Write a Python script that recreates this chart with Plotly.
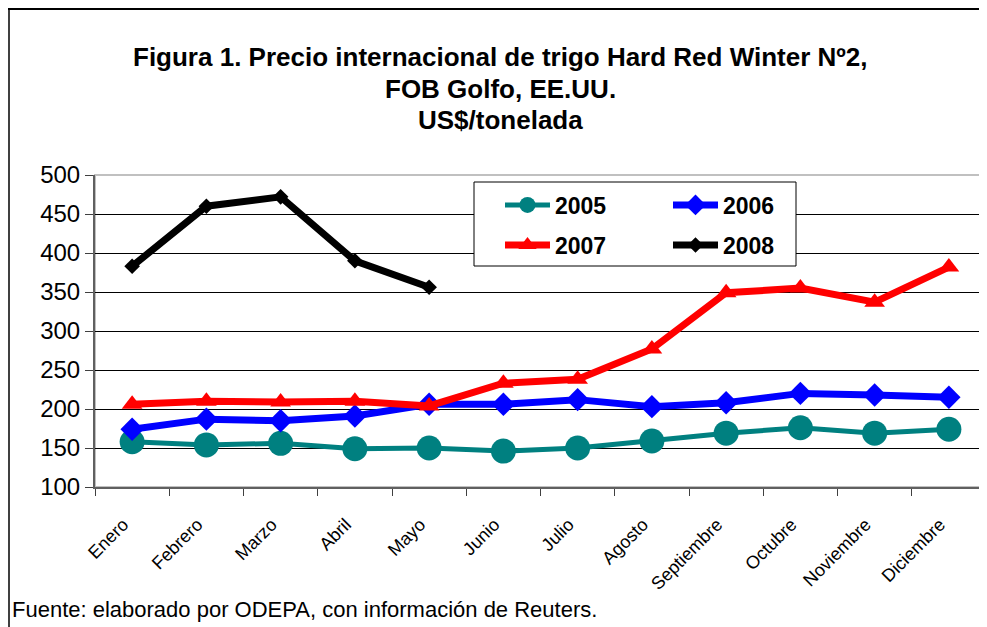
import plotly.graph_objects as go

months = ["Enero", "Febrero", "Marzo", "Abril", "Mayo", "Junio", "Julio",
          "Agosto", "Septiembre", "Octubre", "Noviembre", "Diciembre"]
v2005 = [158, 154, 156, 149, 150, 146, 150, 159, 169, 176, 169, 174]
v2006 = [174, 187, 185, 191, 206, 206, 212, 203, 208, 220, 218, 215]
v2007 = [206, 210, 209, 210, 204, 233, 238, 277, 349, 355, 337, 382]
v2008 = [383, 460, 472, 390, 356]
y_ticks = [100, 150, 200, 250, 300, 350, 400, 450, 500]

# page has an 8px body margin, so the figure is drawn 8px smaller
OFF = 8
W, H = 987 - OFF, 627 - OFF
L, R, T, B = 95, 986, 175, 487  # plot area in reference px


def px(xp):
    return (xp - L) / (R - L)


def py(yp):
    return (B - yp) / (B - T)


FONT = "Liberation Sans, Arial, sans-serif"

fig = go.Figure()
fig.add_trace(go.Scatter(
    x=months, y=v2005, name="2005", mode="lines+markers",
    line=dict(color="#008080", width=5),
    marker=dict(symbol="circle", size=25, color="#008080"),
    legend="legend"))
fig.add_trace(go.Scatter(
    x=months, y=v2006, name="2006", mode="lines+markers",
    line=dict(color="#0000FF", width=7),
    marker=dict(symbol="diamond", size=18, color="#0000FF"),
    legend="legend"))
fig.add_trace(go.Scatter(
    x=months, y=v2007, name="2007", mode="lines+markers",
    line=dict(color="#FF0000", width=7),
    marker=dict(symbol="triangle-up", size=18, color="#FF0000"),
    legend="legend2"))
fig.add_trace(go.Scatter(
    x=months[:len(v2008)], y=v2008, name="2008", mode="lines+markers",
    line=dict(color="#000000", width=7),
    marker=dict(symbol="diamond", size=12, color="#000000"),
    legend="legend2"))

shapes = [
    dict(type="rect", xref="paper", yref="paper", x0=0, x1=1, y0=0, y1=1,
         line=dict(color="#C0C0C0", width=2), layer="below"),
    dict(type="rect", xref="paper", yref="paper",
         x0=px(474), x1=px(796), y0=py(266), y1=py(182),
         line=dict(color="#000000", width=1), fillcolor="white", layer="above"),
    dict(type="line", xref="paper", yref="paper",
         x0=px(9), x1=px(9), y0=py(8), y1=py(640),
         line=dict(color="#404040", width=2)),
    dict(type="line", xref="paper", yref="paper",
         x0=px(8), x1=px(986), y0=py(9), y1=py(9),
         line=dict(color="#000000", width=2)),
]

title_lines = ["Figura 1. Precio internacional de trigo Hard Red Winter Nº2,",
               "FOB Golfo, EE.UU.",
               "US$/tonelada"]
title_y = [57, 89, 120]
annotations = []
for t, yy in zip(title_lines, title_y):
    annotations.append(dict(text="<b>%s</b>" % t, xref="paper", yref="paper",
                            x=px(500), y=py(yy), xanchor="center", yanchor="middle",
                            showarrow=False,
                            font=dict(family=FONT, size=26, color="black")))
annotations.append(dict(text="Fuente: elaborado por ODEPA, con información de Reuters.",
                        xref="paper", yref="paper", x=px(10), y=py(609),
                        xanchor="left", yanchor="middle", showarrow=False,
                        font=dict(family=FONT, size=22, color="black")))

legend_common = dict(orientation="h", xanchor="left", yanchor="middle",
                     bgcolor="rgba(0,0,0,0)", borderwidth=0,
                     itemwidth=45,
                     entrywidth=108, entrywidthmode="pixels",
                     font=dict(family=FONT, size=23, color="black", weight="bold"),
                     itemclick=False, itemdoubleclick=False)

fig.update_layout(
    width=W, height=H,
    margin=dict(l=L - OFF, r=W - (R - OFF), t=T - OFF, b=H - (B - OFF), pad=0),
    paper_bgcolor="white", plot_bgcolor="white",
    font=dict(family=FONT, color="black"),
    showlegend=True,
    legend=dict(legend_common, x=px(500), y=py(205)),
    legend2=dict(legend_common, x=px(500), y=py(245)),
    xaxis=dict(type="category", categoryorder="array", categoryarray=months,
               range=[-0.5, 11.5], tickson="boundaries",
               ticks="outside", ticklen=7, tickcolor="#404040", tickwidth=1,
               showline=True, linecolor="#606060", linewidth=2,
               showgrid=False, tickangle=-45, ticklabelstandoff=18,
               ticklabelshift=-9,
               tickfont=dict(family=FONT, size=18, color="black")),
    yaxis=dict(range=[100, 500], tickvals=y_ticks, ticks="outside", ticklen=8,
               tickcolor="#404040", tickwidth=1,
               showline=True, linecolor="#606060", linewidth=2,
               showgrid=True, gridcolor="#000000", gridwidth=1,
               zeroline=False, ticklabelstandoff=0,
               tickfont=dict(family=FONT, size=24, color="black")),
    shapes=shapes,
    annotations=annotations,
)

fig.write_html("out.html")
